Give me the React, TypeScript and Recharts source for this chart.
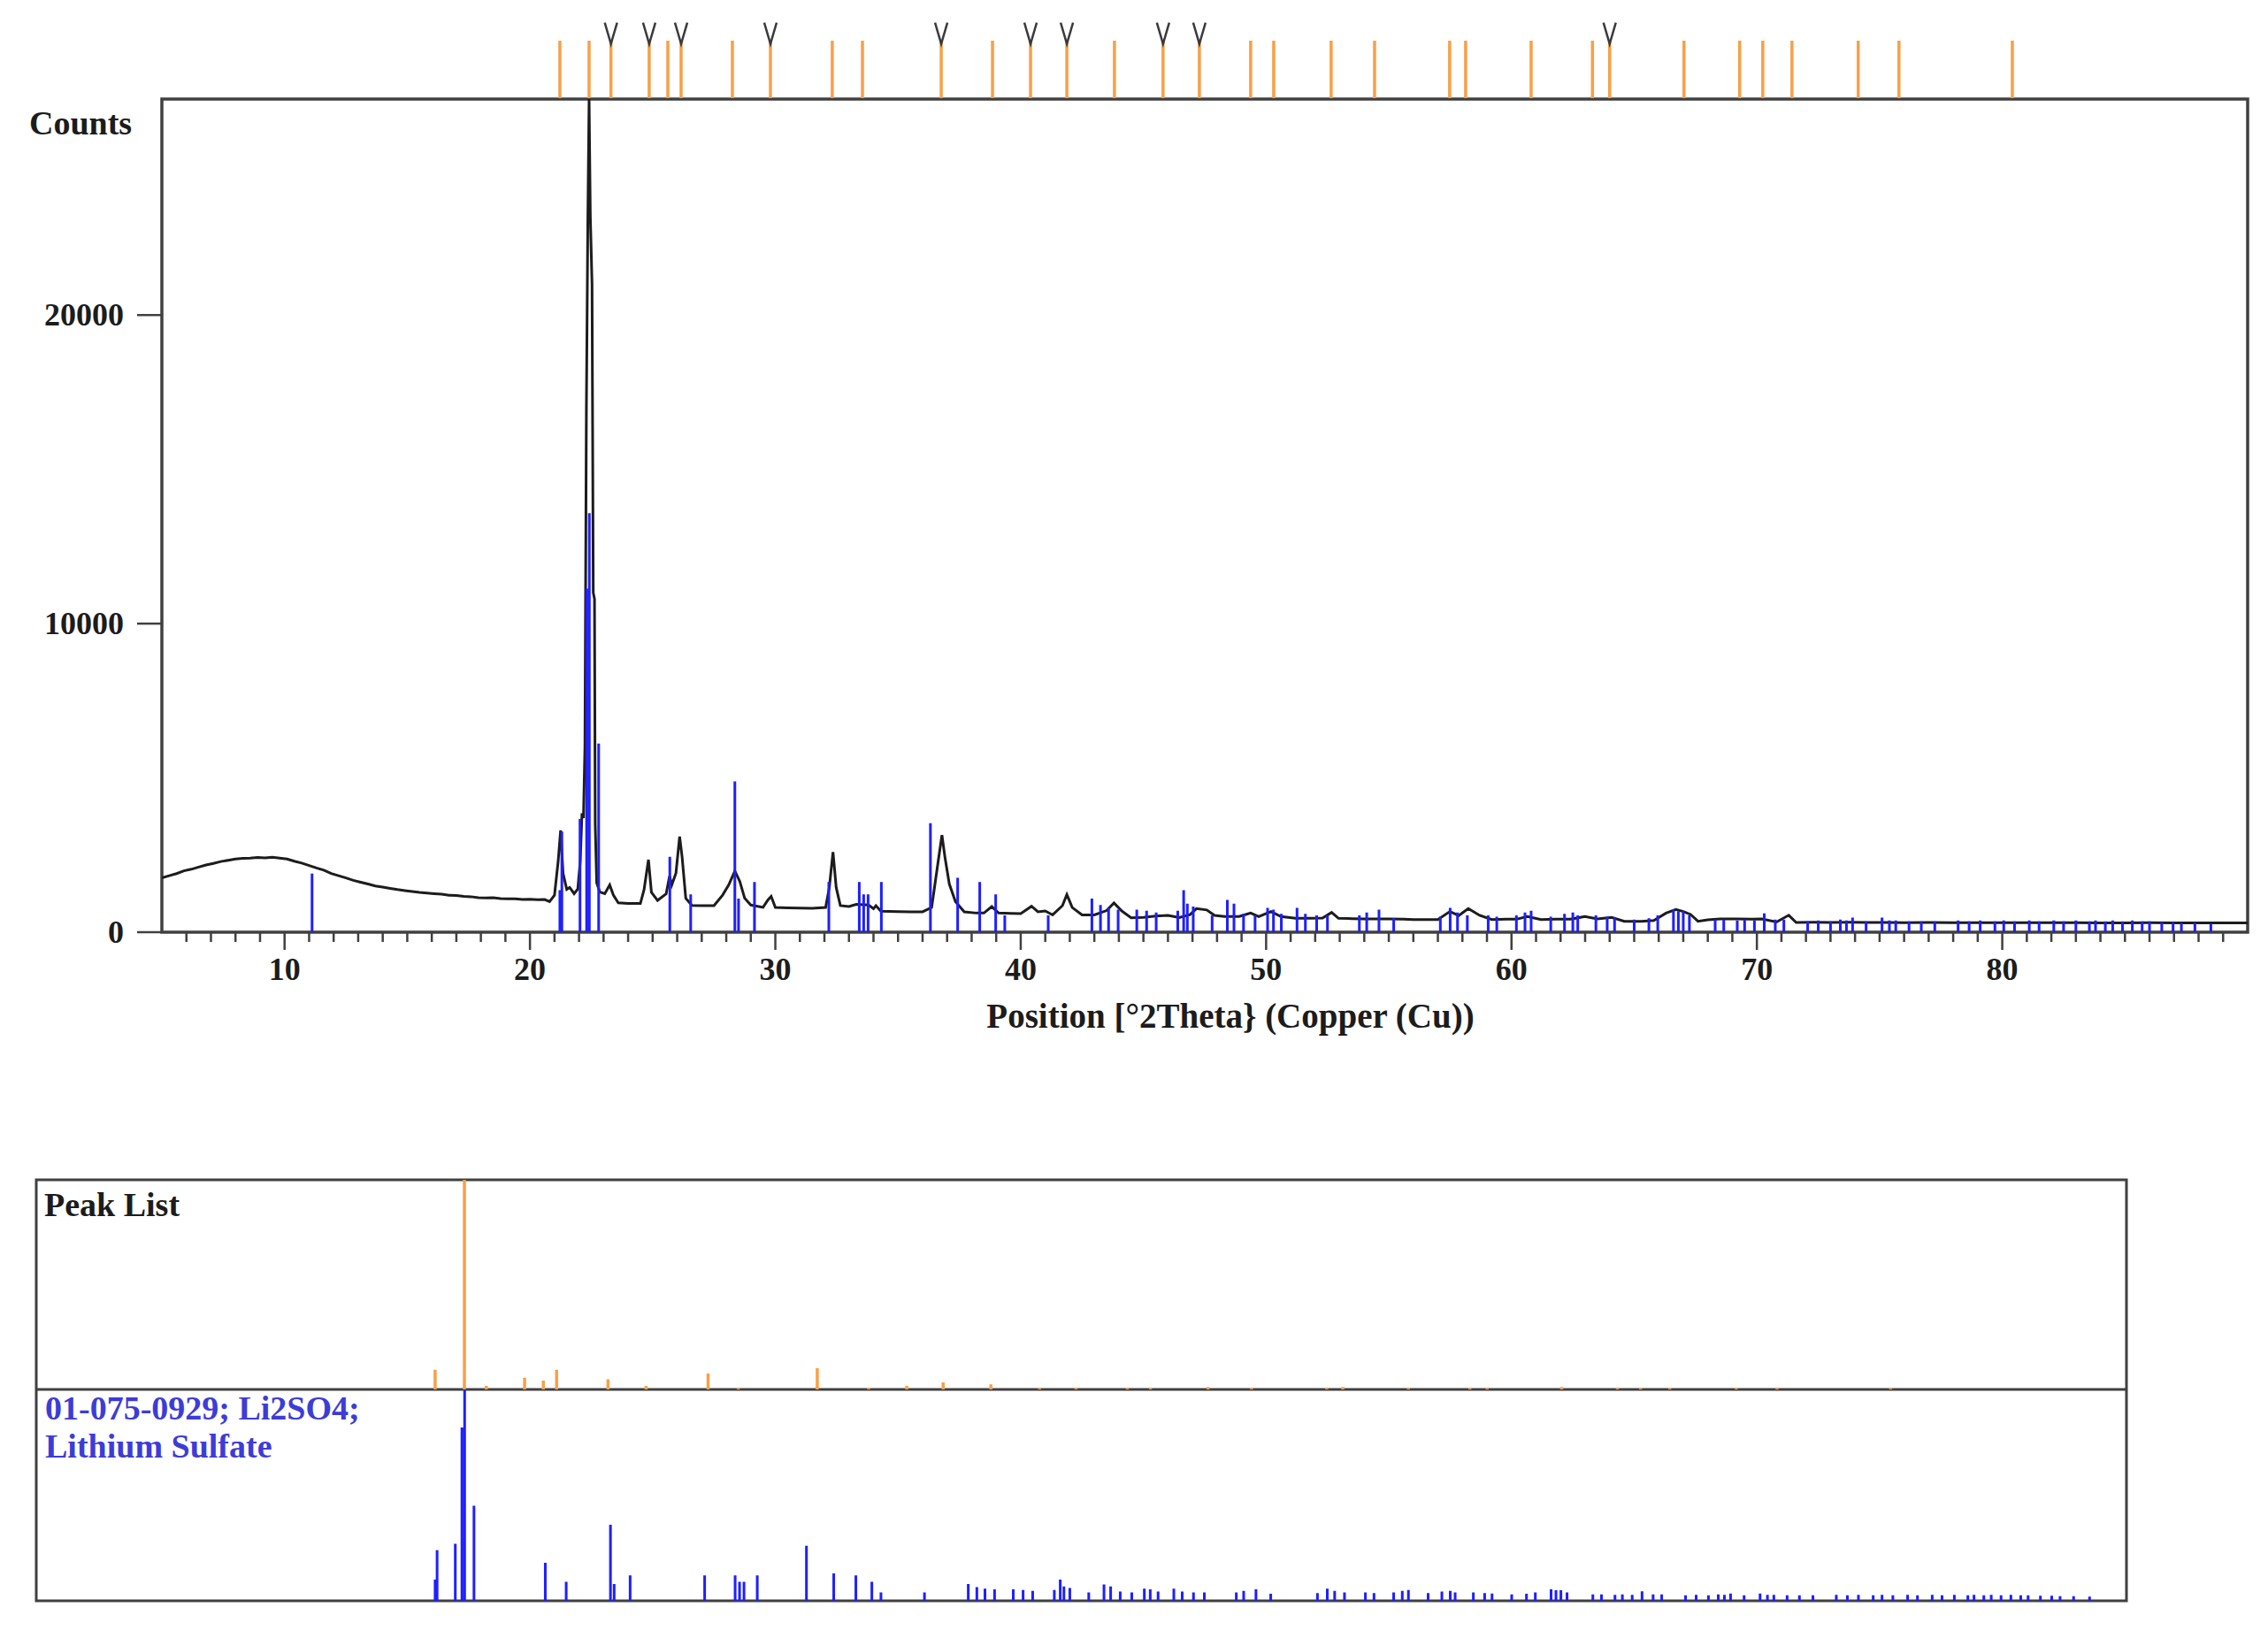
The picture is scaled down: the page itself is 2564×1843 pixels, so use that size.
import React from 'react';
import { ComposedChart, Line, Scatter, XAxis, YAxis, ReferenceArea, Label } from 'recharts';

const FONT = '"Liberation Serif", "Times New Roman", serif';
const ORANGE = '#f8a048';
const BLUE = '#1f1fff';
const INK = '#1c1c1c';
const FRAME = '#404040';

const X_TITLE = 'Position [°2Theta} (Copper (Cu))';

// measured scan, °2θ / counts
const scanTheta = [
  5.0, 5.3, 5.6, 5.9, 6.2, 6.5, 6.8, 7.1, 7.4, 7.7, 8.0, 8.3, 8.6, 8.9, 9.2, 9.5, 9.8, 10.1, 10.4, 10.7,
  11.0, 11.3, 11.6, 11.9, 12.2, 12.5, 12.8, 13.1, 13.4, 13.7, 14.0, 14.3, 14.6, 14.9, 15.2, 15.5, 15.8, 16.1,
  16.4, 16.7, 17.0, 17.3, 17.6, 17.9, 18.2, 18.5, 18.8, 19.1, 19.4, 19.7, 20.0, 20.3, 20.6, 20.8,
  21.0, 21.15, 21.25, 21.35, 21.5, 21.62, 21.8, 21.95, 22.05, 22.12, 22.18, 22.24, 22.3, 22.36, 22.41, 22.46,
  22.53, 22.58, 22.63, 22.66, 22.72, 22.85, 23.05, 23.25, 23.4, 23.6, 24.0, 24.5, 24.65, 24.83, 24.95, 25.2,
  25.55, 25.69, 25.78, 25.95, 26.1, 26.2, 26.35, 26.6, 27.0, 27.5, 27.85, 28.1, 28.35, 28.55, 28.75, 29.0,
  29.5, 29.7, 29.83, 30.0, 30.5, 31.0, 31.5, 32.05, 32.2, 32.35, 32.48, 32.65, 33.0, 33.3, 33.8, 34.0,
  34.1, 34.3, 35.0, 35.5, 36.0, 36.37, 36.61, 36.79, 36.91, 37.09, 37.34, 37.7, 38.2, 38.5, 38.82, 39.1,
  39.6, 40.0, 40.44, 40.7, 41.0, 41.3, 41.7, 41.88, 42.1, 42.5, 43.0, 43.5, 43.8, 44.1, 44.5, 45.0,
  45.5, 46.0, 46.46, 46.9, 47.16, 47.58, 47.9, 48.3, 48.9, 49.37, 49.7, 50.2, 50.6, 51.2, 51.8, 52.3,
  52.67, 52.95, 53.5, 54.0, 54.6, 55.0, 55.6, 56.0, 56.6, 57.0, 57.49, 57.85, 58.24, 58.7, 59.2, 59.8,
  60.2, 60.65, 61.2, 61.8, 62.4, 62.99, 63.5, 64.08, 64.6, 65.3, 65.8, 66.3, 66.7, 67.0, 67.3, 67.6,
  68.0, 68.5, 69.2, 69.8, 70.2, 70.8, 71.3, 71.6, 72.3, 73.0, 73.8, 74.5, 75.3, 76.0, 77.0, 78.0,
  79.0, 80.0, 81.0, 82.0, 83.0, 84.0, 85.0, 86.0, 87.0, 88.0, 89.0, 90.0,
];
const scanCounts = [
  1760, 1830, 1900, 1990, 2040, 2110, 2180, 2230, 2290, 2330, 2370, 2390, 2400, 2420, 2410, 2430, 2400, 2370, 2300, 2240,
  2160, 2080, 2010, 1900, 1830, 1760, 1680, 1620, 1560, 1500, 1460, 1420, 1380, 1350, 1320, 1290, 1270, 1250,
  1230, 1200, 1190, 1160, 1150, 1120, 1110, 1120, 1090, 1080, 1080, 1060, 1070, 1050, 1060, 990,
  1200, 2300, 3300, 1900, 1390, 1450, 1250, 1400, 2300, 3850, 3700, 6000, 17000, 23200, 27000, 23200,
  21000, 11000, 10800, 3500, 1600, 1300, 1250, 1530, 1200, 950, 930, 930, 1380, 2350, 1290, 1030,
  1240, 1820, 1530, 1915, 3100, 2440, 1100, 870, 860, 860, 1200, 1530, 1980, 1650, 1100, 880,
  805, 1045, 1160, 805, 790, 780, 775, 800, 1450, 2600, 1450, 860, 830, 900, 880, 760,
  860, 680, 665, 660, 660, 800, 2150, 3150, 2440, 1560, 990, 660, 620, 620, 830, 620,
  610, 600, 840, 660, 690, 560, 860, 1220, 800, 560, 560, 700, 950, 700, 465, 480,
  520, 545, 475, 570, 765, 720, 545, 506, 510, 620, 506, 670, 506, 450, 450, 460,
  640, 450, 440, 430, 430, 430, 420, 410, 410, 410, 670, 540, 765, 545, 410, 420,
  420, 506, 410, 420, 420, 506, 430, 480, 354, 354, 380, 620, 735, 670, 574, 354,
  400, 430, 430, 420, 430, 330, 550, 315, 320, 315, 320, 315, 315, 310, 315, 310,
  310, 310, 305, 310, 305, 300, 300, 305, 300, 300, 300, 300,
];

// peak list: positions and relative intensity (%)
const peakTheta = [
  21.22, 22.41, 23.3, 24.86, 25.62, 26.16, 28.25, 29.8, 32.32, 33.55, 36.76, 38.85, 40.4, 41.88, 43.82, 45.8,
  47.28, 49.37, 50.31, 52.65, 54.42, 57.48, 58.13, 60.8, 63.3, 64.0, 67.03, 69.3, 70.24, 71.43, 74.13, 75.79, 80.41,
];
const peakRelInt = [
  9.4, 100, 1.7, 5.6, 4.2, 9.4, 4.9, 1.7, 7.6, 0.6, 10.1, 0.8, 1.7, 3.4, 2.4, 0.6,
  0.6, 0.6, 0.6, 1.2, 0.6, 0.6, 1.2, 0.6, 0.6, 0.6, 1.2, 0.6, 0.6, 0.6, 0.6, 0.6, 0.6,
];
// peaks flagged with a "V" above the strip
const markedTheta = [23.3, 24.86, 26.16, 29.8, 36.76, 40.4, 41.88, 45.8, 47.28, 64.0];

// reference pattern 01-075-0929 Li2SO4, relative intensity (%)
const refTheta = [
  21.22, 21.3, 22.04, 22.31, 22.42, 22.8, 25.7, 26.55, 28.35, 28.5, 29.15, 32.18, 33.42, 33.6, 33.78, 34.32,
  36.32, 37.43, 38.33, 38.98, 39.35, 41.12, 42.9, 43.25, 43.58, 43.97, 44.73, 45.13, 45.52, 46.4, 46.64, 46.79,
  47.03, 47.8, 48.42, 48.69, 49.08, 49.55, 50.06, 50.3, 50.62, 51.26, 51.6, 52.06, 52.5, 53.8, 54.1, 54.6,
  55.2, 57.1, 57.5, 57.8, 58.2, 59.05, 59.4, 60.2, 60.55, 60.8, 61.6, 62.16, 62.5, 62.7, 63.44, 63.9,
  64.2, 65.0, 65.6, 65.96, 66.6, 66.8, 67.0, 67.25, 68.3, 68.65, 69.2, 69.5, 69.9, 70.3, 70.75, 71.1,
  72.07, 72.5, 73.0, 73.4, 73.65, 73.9, 74.45, 75.1, 75.4, 75.66, 76.2, 76.7, 77.25, 78.2, 78.65, 79.1,
  79.7, 80.06, 80.5, 81.1, 81.5, 82.1, 82.5, 83.0, 83.55, 83.8, 84.2, 84.5, 84.9, 85.3, 85.7, 86.0,
  86.5, 86.96, 87.3, 87.85, 88.5,
];
const refRelInt = [
  10, 24, 27, 82, 100, 45, 18, 9, 36, 8, 12, 12, 12, 9, 9, 12,
  26, 13, 12, 9, 4, 4, 8, 6.5, 5.8, 5.4, 5.4, 5.1, 4.7, 5.1, 10, 6.8,
  6.1, 4, 7.7, 6.8, 4.4, 4, 5.8, 5.4, 4.4, 5.8, 4.4, 4, 4, 4, 4.7, 5.4,
  3.3, 3.7, 5.8, 4.7, 4, 4, 3.7, 4, 4.7, 5.1, 3.7, 4.4, 4.7, 4, 4, 3.7,
  3.5, 3, 3.3, 4, 5.4, 5, 5, 4, 3, 3, 2.8, 3, 2.8, 4.5, 3, 3,
  2.6, 2.8, 2.6, 3, 2.8, 3.5, 2.6, 3.5, 2.8, 2.8, 2.6, 2.6, 2.6, 2.8, 2.6, 2.8,
  2.6, 2.8, 2.6, 2.8, 2.6, 2.8, 2.6, 2.8, 2.6, 2.8, 2.6, 2.8, 2.6, 2.8, 2.6, 2.6,
  2.4, 2.4, 2.2, 2.2, 2,
];
// extra stick shown only in the main plot
const extraTheta = [11.12];
const extraRelInt = [14];

const xMajor = [10, 20, 30, 40, 50, 60, 70, 80];
const xTicks = Array.from({ length: 84 }, (_, i) => i + 6);
const yTicks = [0, 10000, 20000];

const COUNT_MAX = 27000;
const REF_FULL = 13580; // counts drawn for a 100% reference line

type Pt = { x: number; y: number | null };
const toPoints = (xs: number[], ys: number[]): Pt[] => xs.map((x, i) => ({ x, y: ys[i] }));
const sticks = (xs: number[], hs: number[]): Pt[] => {
  const out: Pt[] = [];
  xs.forEach((x, i) => {
    out.push({ x, y: 0 }, { x, y: hs[i] }, { x, y: null });
  });
  return out;
};

const scanData = toPoints(scanTheta, scanCounts);
const refData = sticks(refTheta, refRelInt);
const extraData = sticks(extraTheta, extraRelInt);
const peakData = sticks(peakTheta, peakRelInt);
const stripData = sticks(peakTheta, peakTheta.map(() => 1));
const markData = markedTheta.map((x) => ({ x, y: 1.13 }));

const XTick = (props: any) => {
  const { x, y, payload } = props;
  const major = xMajor.includes(payload.value);
  return (
    <g>
      <line x1={x} x2={x} y1={y} y2={y + (major ? 20 : 11)} stroke={FRAME} strokeWidth={2.5} />
      {major && (
        <text x={x} y={y + 54} textAnchor="middle" fontFamily={FONT} fontWeight="bold" fontSize={36} fill={INK}>
          {payload.value}
        </text>
      )}
    </g>
  );
};

const YTick = (props: any) => {
  const { x, y, payload } = props;
  return (
    <g>
      <line x1={x - 28} x2={x} y1={y} y2={y} stroke={FRAME} strokeWidth={2.5} />
      <text x={x - 43} y={y + 12} textAnchor="end" fontFamily={FONT} fontWeight="bold" fontSize={36} fill={INK}>
        {payload.value}
      </text>
    </g>
  );
};

const VMark = (props: any) => {
  const { cx, cy } = props;
  return (
    <path d={`M${cx - 7},${cy - 12} L${cx},${cy + 12} L${cx + 7},${cy - 12}`} stroke="#3a3a3a" strokeWidth={2.5} fill="none" />
  );
};

export default function App() {
  return (
    <div style={{ position: 'absolute', left: 0, top: 0, width: 2564, height: 1843, background: '#fff' }}>
      {/* main scan */}
      <div style={{ position: 'absolute', left: 0, top: 0 }}>
        <ComposedChart width={2564} height={1200} margin={{ top: 112, right: 23, bottom: 116, left: 123 }}>
          <XAxis
            type="number"
            dataKey="x"
            domain={[5, 90]}
            ticks={xTicks}
            interval={0}
            tick={<XTick />}
            tickLine={false}
            axisLine={false}
            tickSize={0}
            tickMargin={0}
            height={30}
            allowDataOverflow
          >
            <Label
              content={(p: any) => (
                <text
                  x={p.viewBox.x + p.viewBox.width / 2 + 29}
                  y={p.viewBox.y + 108}
                  textAnchor="middle"
                  fontFamily={FONT}
                  fontWeight="bold"
                  fontSize={39}
                  fill={INK}
                >
                  {X_TITLE}
                </text>
              )}
            />
          </XAxis>
          <YAxis
            domain={[0, COUNT_MAX]}
            ticks={yTicks}
            interval={0}
            tick={<YTick />}
            tickLine={false}
            axisLine={false}
            tickSize={0}
            tickMargin={0}
            width={60}
            allowDataOverflow
          >
            <Label
              content={(p: any) => (
                <text x={p.viewBox.x - 90} y={p.viewBox.y + 40} fontFamily={FONT} fontWeight="bold" fontSize={38} fill={INK}>
                  Counts
                </text>
              )}
            />
          </YAxis>
          <YAxis yAxisId="ref" hide domain={[0, (COUNT_MAX / REF_FULL) * 100]} allowDataOverflow />
          <ReferenceArea x1={5} x2={90} y1={0} y2={COUNT_MAX} fill="none" stroke={FRAME} strokeWidth={3.5} />
          <Line data={scanData} dataKey="y" type="linear" stroke={INK} strokeWidth={3} dot={false} isAnimationActive={false} />
          <Line data={refData} dataKey="y" yAxisId="ref" stroke={BLUE} strokeWidth={3} dot={false} connectNulls={false} isAnimationActive={false} />
          <Line data={extraData} dataKey="y" yAxisId="ref" stroke={BLUE} strokeWidth={3} dot={false} connectNulls={false} isAnimationActive={false} />
        </ComposedChart>
      </div>

      {/* peak position strip above the plot */}
      <div style={{ position: 'absolute', left: 0, top: 0 }}>
        <ComposedChart width={2564} height={112} margin={{ top: 20, right: 23, bottom: 1, left: 183 }}>
          <XAxis type="number" dataKey="x" domain={[5, 90]} hide allowDataOverflow />
          <YAxis domain={[0, 1.4]} hide allowDataOverflow />
          <Line data={stripData} dataKey="y" stroke={ORANGE} strokeWidth={3.5} dot={false} connectNulls={false} isAnimationActive={false} />
          <Scatter data={markData} dataKey="y" shape={<VMark />} isAnimationActive={false} />
        </ComposedChart>
      </div>

      {/* peak list panel */}
      <div style={{ position: 'absolute', left: 0, top: 1300 }}>
        <ComposedChart width={2564} height={271} margin={{ top: 34, right: 160, bottom: 0, left: 41 }}>
          <XAxis type="number" dataKey="x" domain={[5, 90]} hide allowDataOverflow />
          <YAxis domain={[0, 100]} hide allowDataOverflow />
          <ReferenceArea x1={5} x2={90} y1={0} y2={100} fill="none" stroke={FRAME} strokeWidth={3}>
            <Label
              content={(p: any) => (
                <text x={p.viewBox.x + 9} y={p.viewBox.y + 41} fontFamily={FONT} fontWeight="bold" fontSize={38} fill={INK}>
                  Peak List
                </text>
              )}
            />
          </ReferenceArea>
          <Line data={peakData} dataKey="y" stroke={ORANGE} strokeWidth={3.5} dot={false} connectNulls={false} isAnimationActive={false} />
        </ComposedChart>
      </div>

      {/* reference pattern panel */}
      <div style={{ position: 'absolute', left: 0, top: 1571 }}>
        <ComposedChart width={2564} height={269} margin={{ top: 0, right: 160, bottom: 30, left: 41 }}>
          <XAxis type="number" dataKey="x" domain={[5, 90]} hide allowDataOverflow />
          <YAxis domain={[0, 100]} hide allowDataOverflow />
          <ReferenceArea x1={5} x2={90} y1={0} y2={100} fill="none" stroke={FRAME} strokeWidth={3}>
            <Label
              content={(p: any) => (
                <text x={p.viewBox.x + 10} y={p.viewBox.y + 34} fontFamily={FONT} fontWeight="bold" fontSize={38} fill="#3c3cd8">
                  <tspan x={p.viewBox.x + 10}>01-075-0929; Li2SO4;</tspan>
                  <tspan x={p.viewBox.x + 10} dy={43}>Lithium Sulfate</tspan>
                </text>
              )}
            />
          </ReferenceArea>
          <Line data={refData} dataKey="y" stroke={BLUE} strokeWidth={3} dot={false} connectNulls={false} isAnimationActive={false} />
        </ComposedChart>
      </div>
    </div>
  );
}
